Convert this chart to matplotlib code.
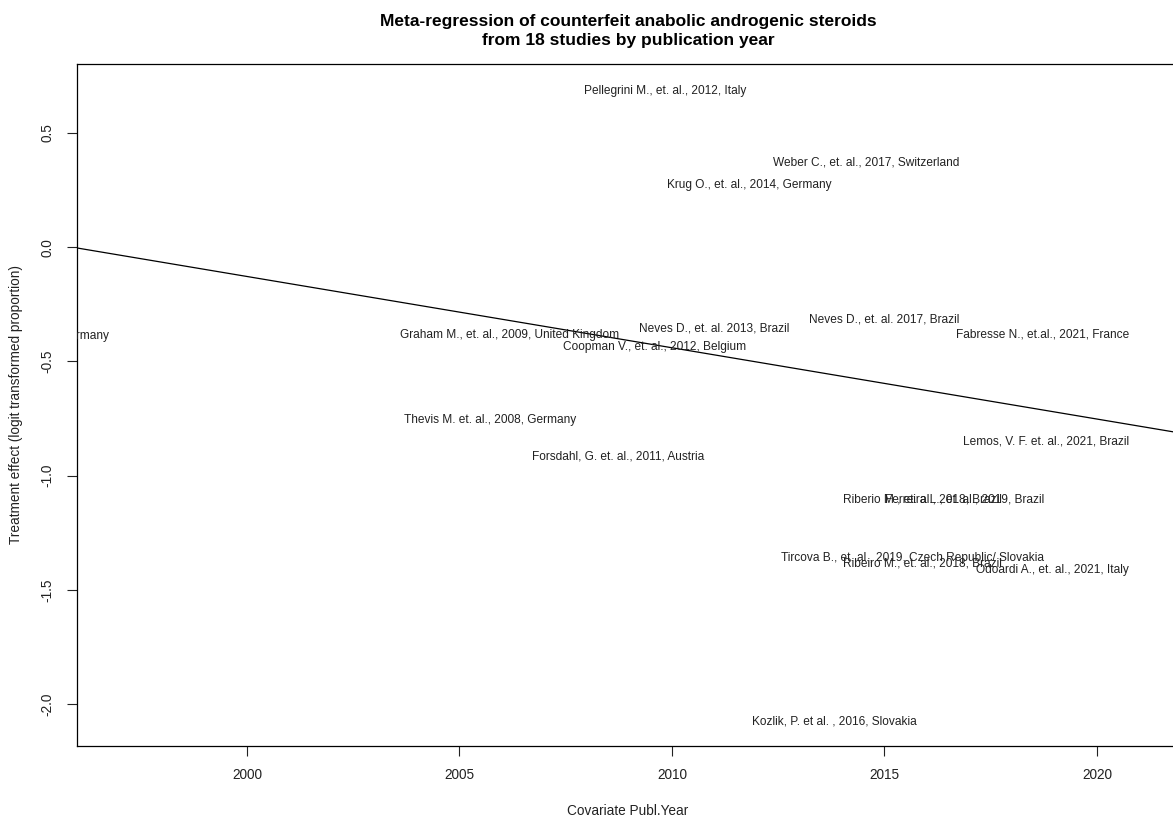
import numpy as np
import matplotlib
matplotlib.use("Agg")
import matplotlib.pyplot as plt

plt.rcParams['font.family'] = ['Liberation Sans', 'DejaVu Sans']

# study labels, publication year and logit effect
labels = [
    "Pellegrini M., et. al., 2012, Italy",
    "Weber C., et. al., 2017, Switzerland",
    "Krug O., et. al., 2014, Germany",
    "Germany",
    "Graham M., et. al., 2009, United Kingdom",
    "Neves D., et. al. 2013, Brazil",
    "Coopman V., et. al., 2012, Belgium",
    "Neves D., et. al. 2017, Brazil",
    "Fabresse N., et.al., 2021, France",
    "Thevis M. et. al., 2008, Germany",
    "Forsdahl, G. et. al., 2011, Austria",
    "Lemos, V. F. et. al., 2021, Brazil",
    "Riberio M., et. al., 2018, Brazil",
    "Ferreira L., et. al., 2019, Brazil",
    "Tircova B., et. al., 2019, Czech Republic/ Slovakia",
    "Ribeiro M., et. al., 2018, Brazil",
    "Odoardi A., et. al., 2021, Italy",
    "Kozlik, P. et al. , 2016, Slovakia",
]
years = [2012, 2017, 2014, 1997, 2009, 2013, 2012, 2017, 2021,
         2008, 2011, 2021, 2018, 2019, 2019, 2018, 2021, 2016]
effects = [0.684, 0.372, 0.273, -0.388, -0.384, -0.355, -0.435, -0.318, -0.381,
           -0.756, -0.917, -0.851, -1.106, -1.106, -1.362, -1.384, -1.413, -2.077]

# fitted meta-regression line
fit_at_2000 = -0.128
fit_slope = -0.0312

fig = plt.figure(figsize=(11.73, 8.17), dpi=100)
ax = fig.add_axes([77 / 1173, 71 / 817, 1102 / 1173, 682 / 817])

for lab, yr, ef in zip(labels, years, effects):
    ax.annotate(lab, (yr, ef), xytext=(-7.5, 0), textcoords='offset points',
                ha='right', va='center', fontsize=8.6, color='#222222',
                clip_on=True, annotation_clip=False)

ax.axline((2000, fit_at_2000), slope=fit_slope, color='black', lw=0.9)

ax.set_xlim(1996.0, 2021.93)
ax.set_ylim(-2.183, 0.802)
ax.set_xticks([2000, 2005, 2010, 2015, 2020])
ax.set_yticks([-2.0, -1.5, -1.0, -0.5, 0.0, 0.5])
ax.set_yticklabels(['-2.0', '-1.5', '-1.0', '-0.5', '0.0', '0.5'], rotation=90, va='center')
ax.tick_params(labelsize=9.8, length=7, width=0.8, pad=9, colors='#222222')
for s in ax.spines.values():
    s.set_linewidth(0.9)

ax.set_xlabel("Covariate Publ.Year", fontsize=9.8, labelpad=16, color='#222222')
ax.set_ylabel("Treatment effect (logit transformed proportion)", fontsize=9.8,
              labelpad=13, color='#222222')
ax.set_title("Meta-regression of counterfeit anabolic androgenic steroids\n"
             "from 18 studies by publication year",
             fontsize=12.5, fontweight='bold', pad=14, linespacing=1.32)

fig.savefig("out.png", dpi=100)
